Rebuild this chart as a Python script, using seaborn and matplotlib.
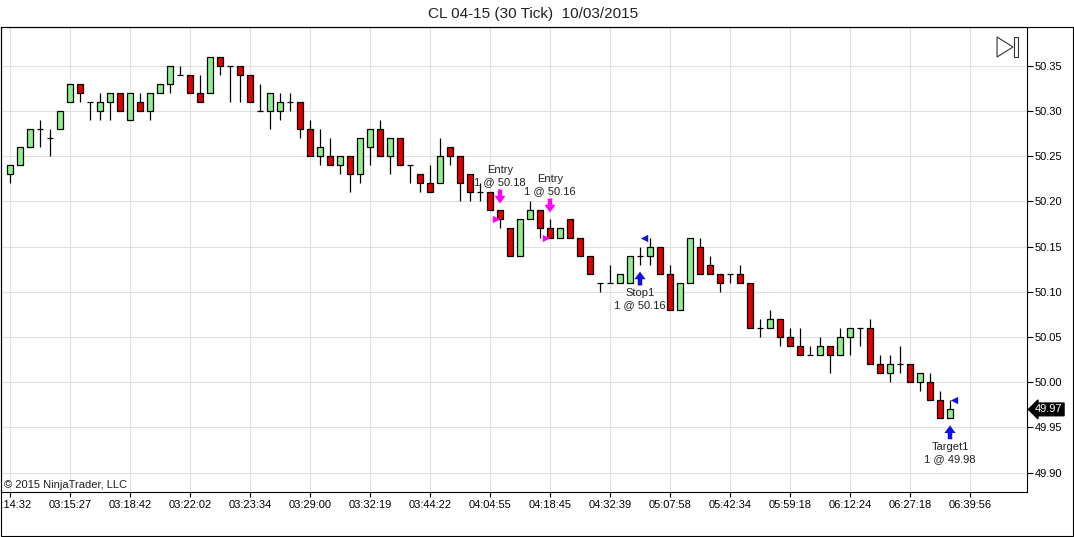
import numpy as np
import pandas as pd
import matplotlib
matplotlib.use("Agg")
import matplotlib.pyplot as plt
import matplotlib.transforms as mtransforms
from matplotlib.patches import Polygon, Rectangle
import seaborn as sns

# --- data (30-tick bars, CL 04-15) ---
opens = [50.23, 50.24, 50.26, 50.28, 50.27, 50.28, 50.31, 50.33, 50.31, 50.30,
         50.31, 50.32, 50.29, 50.31, 50.30, 50.32, 50.33, 50.34, 50.34, 50.32,
         50.32, 50.36, 50.35, 50.35, 50.34, 50.30, 50.30, 50.30, 50.31, 50.31,
         50.28, 50.25, 50.25, 50.24, 50.25, 50.23, 50.26, 50.28, 50.25, 50.27,
         50.24, 50.23, 50.22, 50.22, 50.26, 50.25, 50.23, 50.21, 50.21, 50.19,
         50.17, 50.14, 50.18, 50.19, 50.17, 50.16, 50.18, 50.16, 50.14, 50.11,
         50.11, 50.11, 50.11, 50.14, 50.14, 50.15, 50.12, 50.08, 50.11, 50.15,
         50.13, 50.12, 50.12, 50.12, 50.11, 50.06, 50.06, 50.07, 50.05, 50.04,
         50.03, 50.03, 50.04, 50.03, 50.05, 50.06, 50.06, 50.02, 50.01, 50.02,
         50.02, 50.00, 50.00, 49.98, 49.96]
highs = [50.24, 50.26, 50.28, 50.29, 50.28, 50.30, 50.33, 50.33, 50.31, 50.32,
         50.32, 50.32, 50.32, 50.32, 50.32, 50.33, 50.35, 50.35, 50.34, 50.34,
         50.36, 50.36, 50.35, 50.35, 50.34, 50.33, 50.32, 50.32, 50.32, 50.31,
         50.29, 50.28, 50.27, 50.25, 50.25, 50.27, 50.28, 50.29, 50.27, 50.27,
         50.24, 50.23, 50.24, 50.27, 50.26, 50.25, 50.23, 50.22, 50.21, 50.19,
         50.17, 50.18, 50.20, 50.19, 50.18, 50.17, 50.18, 50.16, 50.14, 50.11,
         50.13, 50.12, 50.14, 50.15, 50.16, 50.15, 50.13, 50.11, 50.16, 50.16,
         50.14, 50.12, 50.12, 50.13, 50.11, 50.07, 50.08, 50.07, 50.06, 50.06,
         50.04, 50.05, 50.04, 50.06, 50.06, 50.06, 50.07, 50.03, 50.03, 50.04,
         50.02, 50.01, 50.01, 49.99, 49.98]
lows = [50.22, 50.24, 50.26, 50.26, 50.25, 50.28, 50.31, 50.31, 50.29, 50.29,
        50.29, 50.30, 50.29, 50.30, 50.29, 50.32, 50.32, 50.34, 50.32, 50.31,
        50.32, 50.34, 50.31, 50.31, 50.31, 50.30, 50.28, 50.29, 50.30, 50.27,
        50.25, 50.24, 50.24, 50.23, 50.21, 50.22, 50.24, 50.25, 50.23, 50.24,
        50.22, 50.21, 50.21, 50.22, 50.24, 50.20, 50.20, 50.20, 50.19, 50.17,
        50.14, 50.14, 50.18, 50.16, 50.16, 50.16, 50.16, 50.14, 50.12, 50.10,
        50.11, 50.11, 50.11, 50.13, 50.13, 50.12, 50.08, 50.08, 50.11, 50.12,
        50.12, 50.10, 50.11, 50.11, 50.06, 50.05, 50.06, 50.04, 50.04, 50.03,
        50.03, 50.03, 50.01, 50.03, 50.03, 50.04, 50.02, 50.01, 50.00, 50.01,
        50.00, 49.99, 49.98, 49.96, 49.96]
closes = [50.24, 50.26, 50.28, 50.28, 50.27, 50.30, 50.33, 50.32, 50.31, 50.31,
          50.32, 50.30, 50.32, 50.30, 50.32, 50.33, 50.35, 50.34, 50.32, 50.31,
          50.36, 50.35, 50.35, 50.34, 50.31, 50.30, 50.32, 50.31, 50.31, 50.28,
          50.25, 50.26, 50.24, 50.25, 50.23, 50.27, 50.28, 50.25, 50.27, 50.24,
          50.24, 50.22, 50.21, 50.25, 50.25, 50.22, 50.21, 50.21, 50.19, 50.18,
          50.14, 50.18, 50.19, 50.17, 50.16, 50.17, 50.16, 50.14, 50.12, 50.11,
          50.11, 50.12, 50.14, 50.14, 50.15, 50.12, 50.08, 50.11, 50.16, 50.12,
          50.12, 50.11, 50.12, 50.11, 50.06, 50.06, 50.07, 50.05, 50.04, 50.03,
          50.03, 50.04, 50.03, 50.05, 50.06, 50.06, 50.02, 50.01, 50.02, 50.02,
          50.00, 50.01, 49.98, 49.96, 49.97]

time_labels = ["03:14:32", "03:15:27", "03:18:42", "03:22:02", "03:23:34", "03:29:00",
               "03:32:19", "03:44:22", "04:04:55", "04:18:45", "04:32:39", "05:07:58",
               "05:42:34", "05:59:18", "06:12:24", "06:27:18", "06:39:56"]
price_ticks = [49.90, 49.95, 50.00, 50.05, 50.10, 50.15, 50.20, 50.25, 50.30, 50.35]

# executions: bar index, price, label
entry_bars = [49, 54]
entry_prices = [50.18, 50.16]
entry_labels = ["Entry", "Entry"]
exit_bars = [63, 94]
exit_prices = [50.16, 49.98]
exit_labels = ["Stop1", "Target1"]
last_price = 49.97

sns.set_theme(style="white")
plt.rcParams["font.family"] = ["Liberation Sans", "DejaVu Sans"]

df = pd.DataFrame({"open": opens, "high": highs, "low": lows, "close": closes})
df["bar"] = np.arange(len(df))
df["bottom"] = df[["open", "close"]].min(axis=1)
df["height"] = (df["close"] - df["open"]).abs()
up_color, down_color = "#90EE90", "#E00000"
df["color"] = np.where(df["close"] > df["open"], up_color, down_color)

fig = plt.figure(figsize=(10.74, 5.37), dpi=100)
ax = fig.add_axes([1 / 1074, 45 / 537, 1026 / 1074, 465 / 537])
ax.set_xlim(-0.9, 101.7)
ax.set_ylim(49.8787, 50.3927)

grid_c = "#E0E0E0"
for gx in range(0, 97, 6):
    ax.axvline(gx, color=grid_c, lw=0.8, zorder=0)
for gy in price_ticks:
    ax.axhline(gy, color=grid_c, lw=0.8, zorder=0)

body_w = 0.65
ax.vlines(df["bar"], df["low"], df["high"], color="black", lw=0.9, zorder=2)
bodies = df[df["height"] > 0.001]
ax.bar(bodies["bar"], bodies["height"], bottom=bodies["bottom"], width=body_w,
       color=bodies["color"], edgecolor="black", linewidth=0.9, zorder=3)
dojis = df[df["height"] <= 0.001]
ax.hlines(dojis["open"], dojis["bar"] - body_w / 2, dojis["bar"] + body_w / 2,
          color="black", lw=0.9, zorder=3)

# execution markers
fills = pd.DataFrame({
    "x": [b - 0.45 for b in entry_bars] + [b + 0.35 for b in exit_bars],
    "price": entry_prices + exit_prices,
    "kind": ["entry"] * len(entry_bars) + ["exit"] * len(exit_bars),
})
sns.scatterplot(data=fills[fills["kind"] == "entry"], x="x", y="price", marker=">",
                color="#FF00FF", s=28, linewidth=0, ax=ax, zorder=5, legend=False)
sns.scatterplot(data=fills[fills["kind"] == "exit"], x="x", y="price", marker="<",
                color="#1010E0", s=28, linewidth=0, ax=ax, zorder=5, legend=False)

arrow_kw = dict(arrowstyle="simple,head_length=0.55,head_width=0.8,tail_width=0.32",
                lw=0, shrinkA=0, shrinkB=5, mutation_scale=10)
for b, p, lab in zip(entry_bars, entry_prices, entry_labels):
    hi = highs[b]
    ax.annotate("", xy=(b, hi), xytext=(0, 15), textcoords="offset points",
                arrowprops=dict(color="#FF00FF", **arrow_kw), zorder=6)
    ax.annotate(f"{lab}\n1 @ {p:.2f}", xy=(b, hi), xytext=(0, 17),
                textcoords="offset points", ha="center", va="bottom",
                fontsize=8, color="#202020")
for b, p, lab in zip(exit_bars, exit_prices, exit_labels):
    lo = lows[b]
    ax.annotate("", xy=(b, lo), xytext=(0, -15), textcoords="offset points",
                arrowprops=dict(color="#1010E0", **arrow_kw), zorder=6)
    ax.annotate(f"{lab}\n1 @ {p:.2f}", xy=(b, lo), xytext=(0, -17),
                textcoords="offset points", ha="center", va="top",
                fontsize=8, color="#202020")

# axes, ticks
ax.set_xticks(range(0, 97, 6))
ax.set_xticklabels(time_labels)
ax.yaxis.tick_right()
ax.set_yticks(price_ticks)
ax.set_yticklabels([f"{v:.2f}" for v in price_ticks])
ax.tick_params(axis="x", direction="out", length=3.6, width=0.8, pad=2,
               labelsize=8, colors="black", bottom=True)
ax.tick_params(axis="y", direction="out", length=4.3, width=0.8, pad=1.5,
               labelsize=8, colors="black", right=True, left=False)
for s in ax.spines.values():
    s.set_color("black")
    s.set_linewidth(0.8)
ax.set_xlabel("")
ax.set_ylabel("")

# last price tag
tr = mtransforms.blended_transform_factory(ax.transAxes, ax.transData)
ax.text(1.008, last_price, "49.97", transform=tr, ha="left", va="center",
        fontsize=8, color="white", clip_on=False,
        bbox=dict(boxstyle="larrow,pad=0.12", fc="black", ec="black"))

# "go to last bar" icon
ax.add_patch(Polygon([(0.9708, 0.9785), (0.9708, 0.9355), (0.9864, 0.957)],
                     closed=True, fill=False, ec="#333333", lw=0.8,
                     transform=ax.transAxes))
ax.add_patch(Rectangle((0.9873, 0.9355), 0.0039, 0.043, fill=False, ec="#333333",
                       lw=0.8, transform=ax.transAxes))

ax.text(0.003, 0.004, "\u00a9 2015 NinjaTrader, LLC", transform=ax.transAxes,
        ha="left", va="bottom", fontsize=8, color="#202020")

fig.text(533 / 1074, 1 - 14 / 537, "CL 04-15 (30 Tick)  10/03/2015",
         ha="center", va="center", fontsize=11, color="#202020")

# outer frame
fig.patches.append(Rectangle((0.5 / 1074, 1 / 537), 1072 / 1074, 509 / 537,
                             fill=False, ec="black", lw=0.8,
                             transform=fig.transFigure, figure=fig))

fig.savefig("out.png", dpi=100)
